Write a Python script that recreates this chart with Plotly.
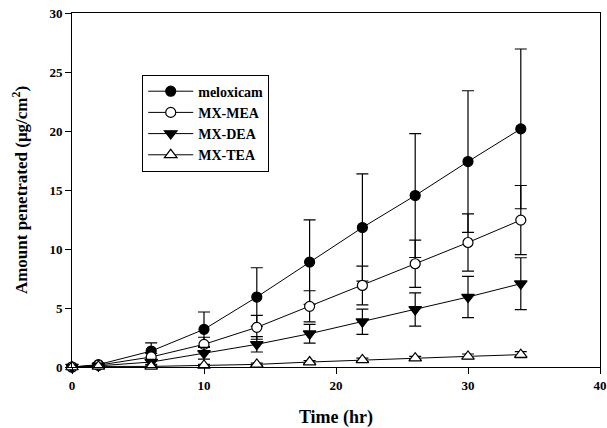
import plotly.graph_objects as go

time = [0, 2, 6, 10, 14, 18, 22, 26, 30, 34]

names = ["meloxicam", "MX-MEA", "MX-DEA", "MX-TEA"]
mx = [0.0, 0.2, 1.35, 3.19, 5.93, 8.89, 11.82, 14.53, 17.41, 20.18]
mx_err = [0.0, 0.1, 0.7, 1.47, 2.48, 3.58, 4.55, 5.25, 6.0, 6.77]
mea = [0.0, 0.15, 0.85, 1.92, 3.36, 5.14, 6.91, 8.75, 10.55, 12.45]
mea_err = [0.0, 0.1, 0.3, 0.6, 1.01, 1.32, 1.64, 2.0, 2.43, 2.93]
dea = [0.0, 0.1, 0.42, 1.16, 1.92, 2.82, 3.84, 4.88, 5.93, 7.06]
dea_err = [0.0, 0.05, 0.2, 0.5, 0.65, 0.79, 1.07, 1.41, 1.75, 2.2]
tea = [0.0, 0.05, 0.05, 0.13, 0.22, 0.42, 0.6, 0.75, 0.9, 1.05]
tea_err = [0.0, 0.03, 0.05, 0.1, 0.1, 0.12, 0.15, 0.15, 0.2, 0.25]

values = [mx, mea, dea, tea]
errors = [mx_err, mea_err, dea_err, tea_err]
symbols = ["circle", "circle", "triangle-down", "triangle-up"]
fills = ["black", "white", "black", "white"]

font_family = "Liberation Serif"

fig = go.Figure()
for n, v, e, s, f in zip(names, values, errors, symbols, fills):
    fig.add_trace(go.Scatter(
        x=time, y=v, name=n, mode="lines+markers",
        line=dict(color="black", width=1),
        marker=dict(symbol=s, size=10 if s == "circle" else 11, color=f,
                    line=dict(color="black", width=1.2)),
        error_y=dict(type="data", array=e, visible=True, color="black",
                     thickness=1.2, width=6),
        cliponaxis=False,
    ))

fig.update_layout(
    width=607, height=428,
    margin=dict(l=72, r=7, t=13, b=61),
    paper_bgcolor="white", plot_bgcolor="white",
    font=dict(family=font_family, color="black", size=12),
    legend=dict(x=0.133, y=0.826, xanchor="left", yanchor="top",
                bordercolor="black", borderwidth=1, bgcolor="white",
                font=dict(family=font_family, size=14, weight="bold"),
                tracegroupgap=0, itemwidth=45),
    xaxis=dict(range=[0, 40], tickvals=[0, 10, 20, 30, 40], automargin=False,
               ticks="outside", ticklen=6, tickcolor="black",
               showline=True, linecolor="black", linewidth=1, mirror=True,
               showgrid=False, zeroline=False,
               tickfont=dict(family=font_family, size=13, weight="bold"),
               title=dict(text="Time (hr)", standoff=20,
                          font=dict(family=font_family, size=18, weight="bold"))),
    yaxis=dict(range=[0, 30], tickvals=[0, 5, 10, 15, 20, 25, 30], automargin=False,
               ticks="outside", ticklen=6, tickcolor="black",
               showline=True, linecolor="black", linewidth=1, mirror=True,
               showgrid=False, zeroline=False,
               tickfont=dict(family=font_family, size=13, weight="bold"),
               title=dict(text="Amount penetrated (μg/cm<sup>2</sup>)", standoff=17,
                          font=dict(family=font_family, size=17, weight="bold"))),
)

fig.write_html("out.html")
